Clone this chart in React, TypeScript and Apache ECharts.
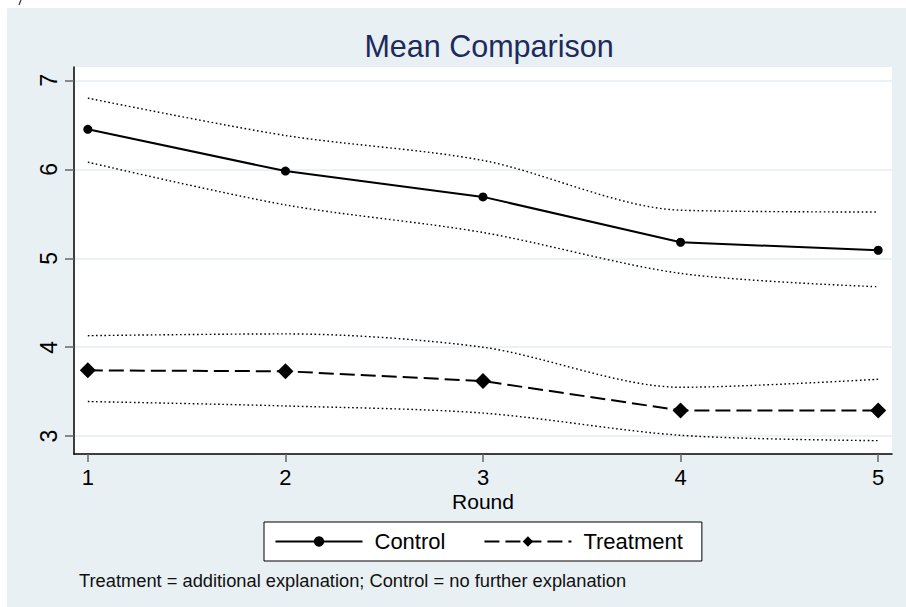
import React, { useEffect, useRef } from "react";
import * as echarts from "echarts";

const rounds = [1, 2, 3, 4, 5];
const controlMean = [6.45, 5.98, 5.69, 5.18, 5.09];
const controlUpper = [6.8, 6.38, 6.1, 5.54, 5.52];
const controlLower = [6.08, 5.6, 5.29, 4.83, 4.68];
const treatMean = [3.74, 3.73, 3.62, 3.29, 3.29];
const treatUpper = [4.13, 4.15, 4.0, 3.55, 3.64];
const treatLower = [3.39, 3.34, 3.26, 3.01, 2.95];
const yTicks = [3, 4, 5, 6, 7];
const xTicks = [1, 2, 3, 4, 5];

const FONT = "'Liberation Sans', Arial, Helvetica, sans-serif";
const PANEL = "#e8f0f3";

const pairs = (ys: number[]) => rounds.map((r, i) => [r, ys[i]]);

const ciSeries = (name: string, ys: number[]) => ({
  name,
  type: "line",
  data: pairs(ys),
  symbol: "none",
  smooth: 0.3,
  silent: true,
  z: 2,
  lineStyle: { color: "#000", width: 1.4, type: [1.6, 2.6] },
});

export default function App() {
  const ref = useRef<HTMLDivElement>(null);
  useEffect(() => {
    if (!ref.current) return;
    const chart = echarts.init(ref.current, null, { renderer: "svg" });
    chart.setOption({
      animation: false,
      backgroundColor: "#ffffff",
      textStyle: { fontFamily: FONT },
      title: {
        text: "Mean Comparison",
        left: 484,
        top: 25,
        textAlign: "center",
        textStyle: { fontFamily: FONT, fontSize: 30.5, fontWeight: "normal", color: "#1c2b5c" },
      },
      graphic: [
        {
          type: "rect",
          silent: true,
          z: -100,
          shape: { x: 7, y: 8, width: 899, height: 599 },
          style: { fill: PANEL },
        },
        {
          type: "line",
          silent: true,
          shape: { x1: 21, y1: 0, x2: 19, y2: 5 },
          style: { stroke: "#333", lineWidth: 1.2 },
        },
        {
          type: "text",
          silent: true,
          x: 79,
          y: 580,
          style: {
            text: "Treatment = additional explanation; Control = no further explanation",
            fontFamily: FONT,
            fontSize: 18.3,
            fill: "#111",
            textVerticalAlign: "middle",
            textAlign: "left",
          },
        },
      ],
      grid: {
        left: 74,
        right: 14,
        top: 67,
        bottom: 153,
        show: true,
        backgroundColor: "#ffffff",
        borderWidth: 0,
      },
      legend: {
        data: ["Control", "Treatment"],
        left: 264,
        top: 522,
        orient: "horizontal",
        backgroundColor: "#ffffff",
        borderColor: "#000",
        borderWidth: 1,
        borderRadius: 0,
        padding: [8.5, 19, 8.5, 10.5],
        itemWidth: 87,
        itemHeight: 13,
        itemGap: 38,
        selectedMode: false,
        textStyle: { fontFamily: FONT, fontSize: 22, color: "#000", padding: [0, 0, 0, 7] },
      },
      xAxis: {
        type: "value",
        min: 0.93,
        max: 5.07,
        name: "Round",
        nameLocation: "middle",
        nameGap: 37,
        nameMoveOverlap: false,
        nameTextStyle: { fontFamily: FONT, fontSize: 21, color: "#000" },
        axisLine: { show: true, lineStyle: { color: "#000", width: 1.5 } },
        axisTick: {
          show: true,
          length: 8,
          customValues: xTicks,
          lineStyle: { color: "#666", width: 1.5 },
        },
        axisLabel: {
          customValues: xTicks,
          margin: 12,
          fontFamily: FONT,
          fontSize: 22,
          color: "#000",
        },
        splitLine: { show: false },
      },
      yAxis: {
        type: "value",
        min: 2.8,
        max: 7.15,
        axisLine: { show: true, lineStyle: { color: "#000", width: 1.5 } },
        axisTick: {
          show: true,
          length: 9,
          customValues: yTicks,
          lineStyle: { color: "#666", width: 1.5 },
        },
        axisLabel: {
          customValues: yTicks,
          rotate: 90,
          margin: 14,
          fontFamily: FONT,
          fontSize: 23,
          color: "#000",
        },
        splitLine: { show: true, lineStyle: { color: "#e4edf1", width: 1.5 } },
      },
      series: [
        ciSeries("Control upper", controlUpper),
        ciSeries("Control lower", controlLower),
        ciSeries("Treatment upper", treatUpper),
        ciSeries("Treatment lower", treatLower),
        {
          name: "Control",
          type: "line",
          data: pairs(controlMean),
          symbol: "circle",
          symbolSize: 9,
          z: 5,
          itemStyle: { color: "#000" },
          lineStyle: { color: "#000", width: 2, type: "solid" },
        },
        {
          name: "Treatment",
          type: "line",
          data: pairs(treatMean),
          symbol: "diamond",
          symbolSize: 16,
          z: 5,
          itemStyle: { color: "#000" },
          lineStyle: { color: "#000", width: 2, type: [15, 6] },
        },
      ],
    });
    return () => chart.dispose();
  }, []);
  return (
    <div
      ref={ref}
      style={{ position: "fixed", left: 0, top: 0, width: 906, height: 607 }}
    />
  );
}
